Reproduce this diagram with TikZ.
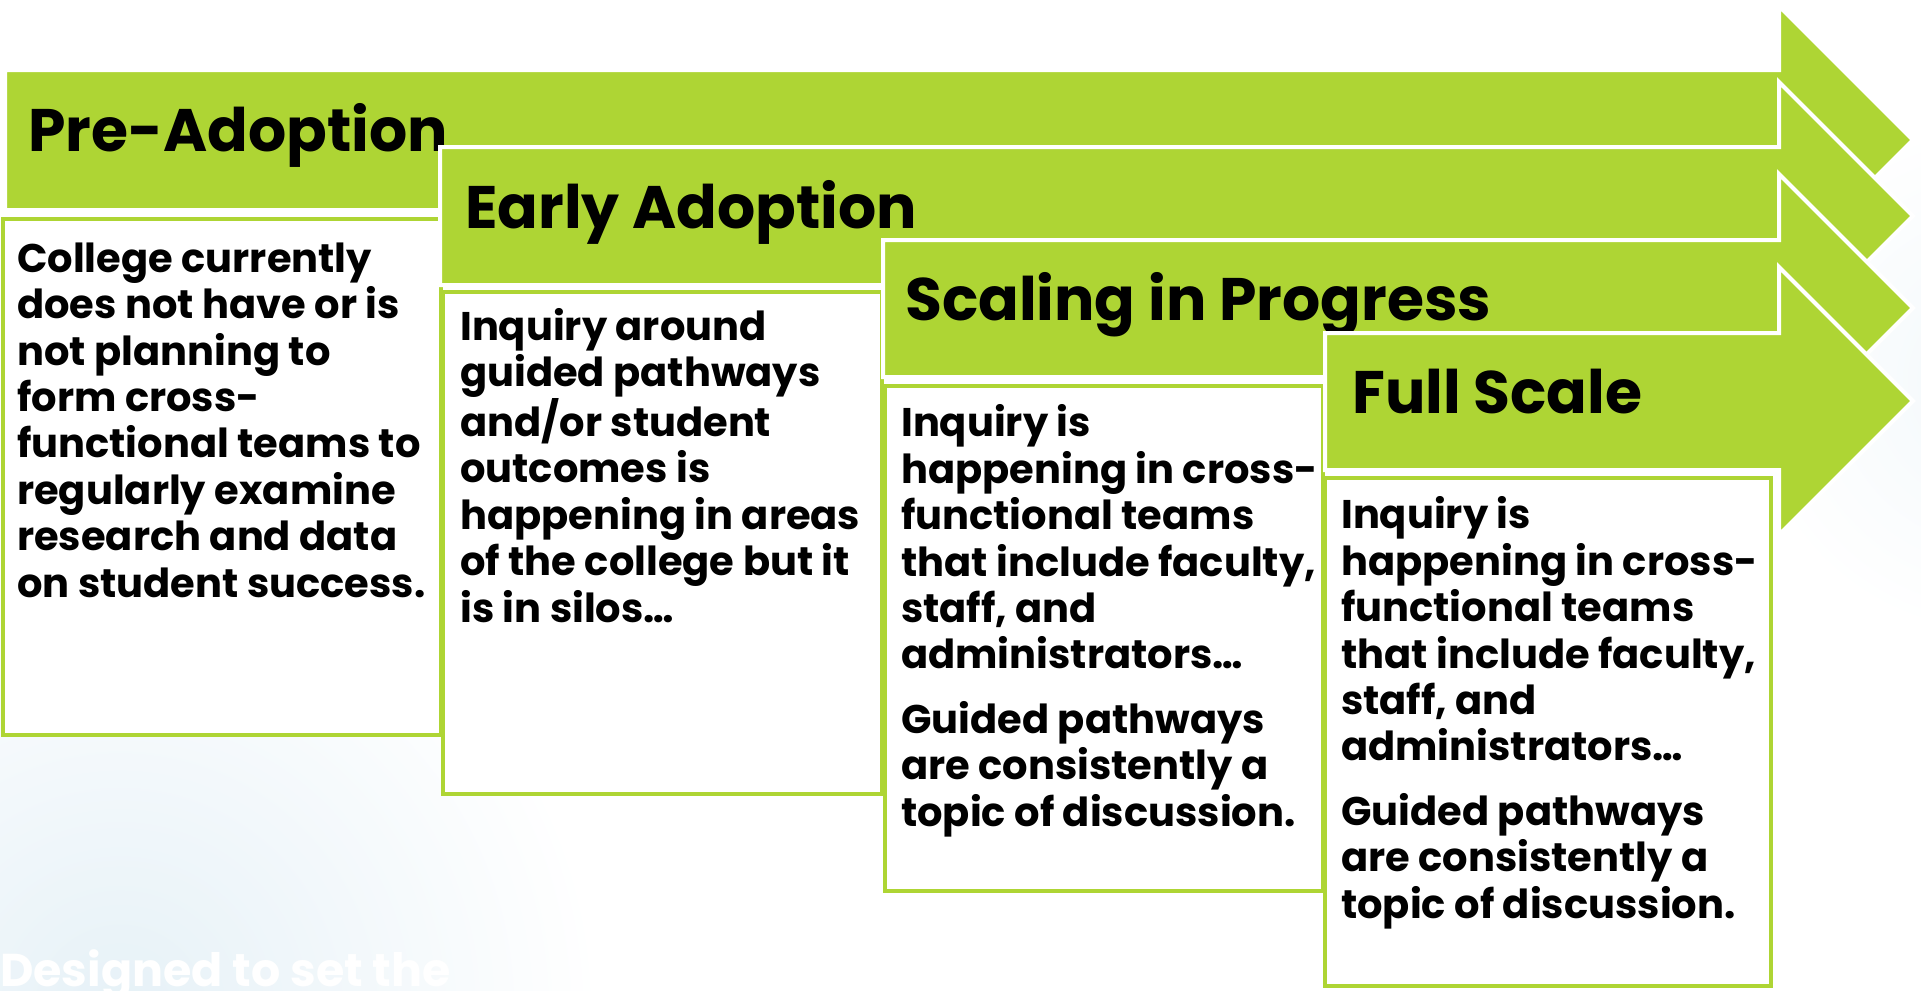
\documentclass[tikz,border=0pt]{standalone}
\usepackage{fontspec}
\setmainfont{Poppins}
\definecolor{lime}{RGB}{174,213,52}
\definecolor{mist}{RGB}{230,241,247}
\tikzset{
  arrowshape/.style={fill=lime, draw=white, line width=4pt, line join=miter},
  headtext/.style={anchor=base west, inner sep=0pt, font=\fontsize{60}{66}\selectfont\bfseries, text=black},
  bodybox/.style={draw=lime, line width=4pt, fill=white},
  bodytext/.style={anchor=base west, inner sep=0pt, align=left, font=\fontsize{40}{46.4}\selectfont\bfseries, text=black},
  watermark/.style={anchor=base west, inner sep=0pt, font=\fontsize{46}{52}\selectfont\bfseries, text=white},
}
\begin{document}
\begin{tikzpicture}[x=1pt,y=-1pt]
\useasboundingbox (0,0) rectangle (1921,990);
% faint background tints
\begin{scope}
\clip (0,0) rectangle (1921,990);
\shade[inner color=mist, outer color=white] (120,1010) circle (480);
\shade[inner color=mist!50, outer color=white] (2000,380) circle (260);
\end{scope}
\node[watermark] (wm) at (0,986) {Designed to set the};
% stage 1 (multi-line nodes are anchored at the baseline of their last line)
\path[arrowshape] (5,70) -- (1779,70) -- (1779,6) -- (1913,140) -- (1779,274) -- (1779,210) -- (5,210) -- cycle;
\node[headtext] (h1) at (28,151) {Pre-Adoption};
\path[bodybox] (3,219) rectangle (441,735);
\node[bodytext] (t1) at (17,597) {College currently\\does not have or is\\not planning to\\form cross-\\functional teams to\\regularly examine\\research and data\\on student success.};
% stage 2
\path[arrowshape] (440,147) -- (1779,147) -- (1779,82) -- (1913,216) -- (1779,350) -- (1779,285) -- (440,285) -- cycle;
\node[headtext] (h2) at (465,228) {Early Adoption};
\path[bodybox] (443,292) rectangle (882,794);
\node[bodytext] (t2) at (460,622) {Inquiry around\\guided pathways\\and/or student\\outcomes is\\happening in areas\\of the college but it\\is in silos…};
% stage 3
\path[arrowshape] (883,240) -- (1779,240) -- (1779,174) -- (1913,308) -- (1779,442) -- (1779,377) -- (883,377) -- cycle;
\node[headtext] (h3) at (905,320) {Scaling in Progress};
\path[bodybox] (885,386) rectangle (1323,891);
\node[bodytext] (t3) at (901,826) {Inquiry is\\happening in cross-\\functional teams\\that include faculty,\\staff, and\\administrators…\\[18pt]Guided pathways\\are consistently a\\topic of discussion.};
% stage 4
\path[arrowshape] (1325,333) -- (1779,333) -- (1779,267) -- (1913,401) -- (1779,535) -- (1779,470) -- (1325,470) -- cycle;
\node[headtext] (h4) at (1352,413) {Full Scale};
\path[bodybox] (1325,478) rectangle (1771,986);
\node[bodytext] (t4) at (1341,918) {Inquiry is\\happening in cross-\\functional teams\\that include faculty,\\staff, and\\administrators…\\[18pt]Guided pathways\\are consistently a\\topic of discussion.};
\end{tikzpicture}
\end{document}
